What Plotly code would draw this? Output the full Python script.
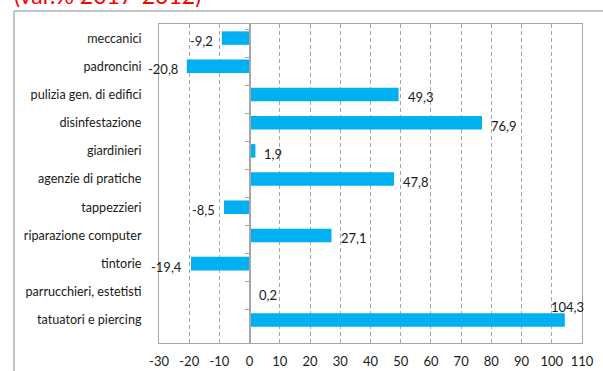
import plotly.graph_objects as go

categories = ["meccanici", "padroncini", "pulizia gen. di edifici", "disinfestazione",
              "giardinieri", "agenzie di pratiche", "tappezzieri", "riparazione computer",
              "tintorie", "parrucchieri, estetisti", "tatuatori e piercing"]
values = [-9.2, -20.8, 49.3, 76.9, 1.9, 47.8, -8.5, 27.1, -19.4, 0.2, 104.3]
labels = ["-9,2", "-20,8", "49,3", "76,9", "1,9", "47,8", "-8,5", "27,1", "-19,4", "0,2", "104,3"]
x_ticks = list(range(-30, 111, 10))
title_text = "(var.% 2017-2012)"

FONT = "Lato"
GRAY = "#a6a6a6"
W, H = 603, 371
ML, MR, MT, MB = 159, 21, 24, 28
PW, PH = W - ML - MR, H - MT - MB

def px_x(p):
    return (p - ML) / PW

def px_y(p):
    return (H - MB - p) / PH

fig = go.Figure()
fig.add_trace(go.Bar(
    x=values, y=categories, orientation="h", width=0.48,
    marker=dict(color="#00B0F0", line=dict(width=0)),
    hoverinfo="skip", showlegend=False,
))
# invisible trace to carry the zero-positioned category axis (tick marks at boundaries)
fig.add_trace(go.Scatter(
    x=[0] * len(categories), y=categories, yaxis="y2", mode="markers",
    marker=dict(opacity=0), hoverinfo="skip", showlegend=False,
))

annotations = []
for c, v, t in zip(categories, values, labels):
    if v >= 100:
        annotations.append(dict(x=v, y=c, text=t, showarrow=False, xanchor="center",
                                yanchor="middle", xshift=3, yshift=13))
    elif v >= 0:
        annotations.append(dict(x=v, y=c, text=t, showarrow=False, xanchor="left",
                                yanchor="middle", xshift=7, yshift=-3))
    else:
        annotations.append(dict(x=v, y=c, text=t, showarrow=False, xanchor="right",
                                yanchor="middle", xshift=-7, yshift=-3))
for a in annotations:
    a["font"] = dict(family=FONT, size=13, color="#1a1a1a")

annotations.append(dict(
    text=title_text, xref="paper", yref="paper", x=px_x(12), y=px_y(11),
    xanchor="left", yanchor="bottom", showarrow=False,
    font=dict(family=FONT, size=23, color="#FF0000"),
))

fig.update_layout(
    width=W, height=H,
    margin=dict(l=ML, r=MR, t=MT, b=MB, pad=0, autoexpand=False),
    paper_bgcolor="white", plot_bgcolor="white",
    font=dict(family=FONT, size=13, color="#1a1a1a"),
    bargap=0.5,
    xaxis=dict(
        range=[-30, 110], tickvals=x_ticks, ticktext=[str(t) for t in x_ticks],
        showgrid=True, gridcolor=GRAY, griddash="4px,3px", gridwidth=1,
        zeroline=False, showline=True, mirror=True, linecolor=GRAY, linewidth=1,
        ticks="", ticklabelstandoff=6, fixedrange=True, automargin=False,
        tickfont=dict(family=FONT, size=13, color="#1a1a1a"),
    ),
    yaxis=dict(
        categoryorder="array", categoryarray=categories, autorange="reversed",
        showgrid=False, zeroline=False, showline=True, mirror=True,
        linecolor=GRAY, linewidth=1, ticks="", ticklabelstandoff=14, automargin=False,
        tickfont=dict(family=FONT, size=12.6, color="#1a1a1a"),
    ),
    yaxis2=dict(
        overlaying="y", anchor="free", position=px_x(ML) + 30 / 140,
        categoryorder="array", categoryarray=categories, autorange="reversed",
        showticklabels=False, showgrid=False, zeroline=False, automargin=False,
        showline=True, linecolor=GRAY, linewidth=2,
        ticks="outside", ticklen=4, tickcolor=GRAY, tickwidth=1, tickson="boundaries",
    ),
    annotations=annotations,
    shapes=[
        dict(type="line", xref="paper", yref="paper", x0=px_x(14), x1=px_x(W + 5),
             y0=px_y(11), y1=px_y(11), line=dict(color="#b0b0b0", width=1.5)),
        dict(type="line", xref="paper", yref="paper", x0=px_x(14), x1=px_x(14),
             y0=px_y(11), y1=px_y(H + 5), line=dict(color="#b0b0b0", width=1.5)),
    ],
)

fig.write_html("out.html")
